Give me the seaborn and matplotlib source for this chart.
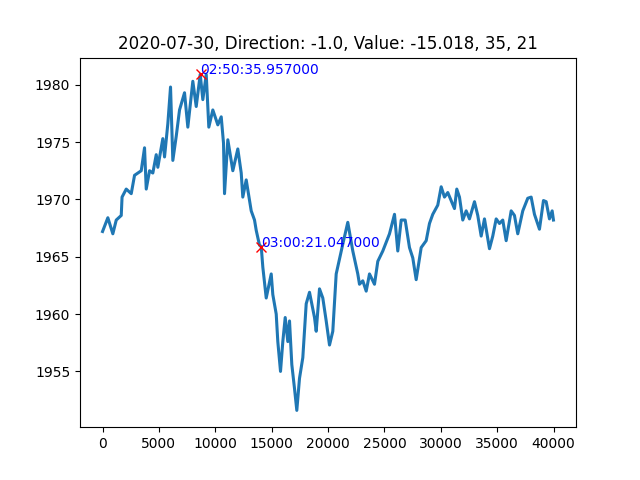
import matplotlib
matplotlib.use("Agg")
import matplotlib.pyplot as plt
import seaborn as sns
import pandas as pd

# tick index and price
idx = [0, 470, 913, 1215, 1658, 1730, 2100, 2545, 2837, 3430, 3723, 3874, 4167, 4459,
       4760, 4902, 5345, 5496, 5789, 6028, 6232, 6533, 6826, 7269, 7562, 8005, 8306,
       8661, 8892, 9193, 9423, 9778, 10221, 10523, 10726, 10815, 11108, 11551, 11994,
       12296, 12437, 12739, 13182, 13475, 13626, 13918, 14069, 14211, 14512, 14956,
       15097, 15399, 15540, 15780, 15984, 16196, 16427, 16578, 16782, 17021, 17225,
       17464, 17757, 18058, 18351, 18794, 18945, 19237, 19530, 19831, 20124, 20416,
       20717, 21160, 21302, 21745, 22189, 22632, 22783, 23076, 23377, 23670, 24113,
       24406, 24849, 25443, 25887, 26178, 26479, 26834, 27215, 27508, 27809, 28253,
       28696, 28989, 29281, 29724, 30026, 30318, 30611, 30912, 31205, 31409, 31648,
       31940, 32242, 32535, 32978, 33270, 33572, 33864, 34308, 34600, 34902, 35194,
       35487, 35788, 36231, 36524, 36816, 37260, 37703, 38004, 38297, 38740, 39095,
       39334, 39627, 39866, 39981]
price = [1967.2, 1968.4, 1967.0, 1968.2, 1968.6, 1970.2, 1970.9, 1970.5, 1972.1, 1972.5,
         1974.5, 1970.9, 1972.5, 1972.3, 1973.9, 1972.8, 1975.3, 1973.7, 1976.6, 1979.8,
         1973.4, 1975.5, 1977.8, 1979.3, 1976.3, 1980.3, 1978.1, 1980.9, 1978.7, 1980.9,
         1976.3, 1977.8, 1976.5, 1977.2, 1974.9, 1970.5, 1975.2, 1972.5, 1974.4, 1972.3,
         1970.2, 1971.7, 1969.0, 1968.2, 1967.3, 1966.0, 1965.9, 1964.1, 1961.4, 1963.5,
         1961.7, 1960.0, 1957.6, 1955.0, 1957.6, 1959.7, 1957.6, 1959.4, 1955.6, 1953.5,
         1951.6, 1954.4, 1956.2, 1960.9, 1961.9, 1959.7, 1958.5, 1962.2, 1961.4, 1959.4,
         1957.3, 1958.5, 1963.5, 1965.5, 1966.1, 1968.0, 1965.5, 1963.5, 1962.6, 1962.9,
         1962.0, 1963.5, 1962.6, 1964.6, 1965.5, 1967.0, 1968.7, 1965.5, 1968.2, 1968.2,
         1965.8, 1964.9, 1963.0, 1965.8, 1966.4, 1967.9, 1968.7, 1969.5, 1971.1, 1970.2,
         1970.6, 1969.9, 1969.2, 1970.9, 1970.2, 1968.2, 1969.0, 1968.3, 1969.8, 1968.6,
         1966.8, 1968.3, 1965.7, 1966.8, 1968.3, 1967.9, 1968.2, 1966.4, 1969.0, 1968.6,
         1967.0, 1969.0, 1970.1, 1970.2, 1968.7, 1967.4, 1969.9, 1969.8, 1968.3, 1969.0,
         1968.2]

# marked extremes
mark_idx = [8690, 14069]
mark_price = [1980.9, 1965.88]
mark_label = ["02:50:35.957000", "03:00:21.047000"]

title = "2020-07-30, Direction: -1.0, Value: -15.018, 35, 21"

df = pd.DataFrame({"idx": idx, "price": price})

fig, ax = plt.subplots(figsize=(6.4, 4.8), dpi=100)
sns.lineplot(data=df, x="idx", y="price", ax=ax, color="#1f77b4", linewidth=2.2, sort=False)
ax.plot(mark_idx, mark_price, "x", color="red", markersize=7, zorder=3)
for xi, yi, lab in zip(mark_idx, mark_price, mark_label):
    ax.text(xi, yi, lab, color="blue", fontsize=10)

ax.set_title(title)
ax.set_xlabel("")
ax.set_ylabel("")
fig.savefig("out.png", dpi=100)
